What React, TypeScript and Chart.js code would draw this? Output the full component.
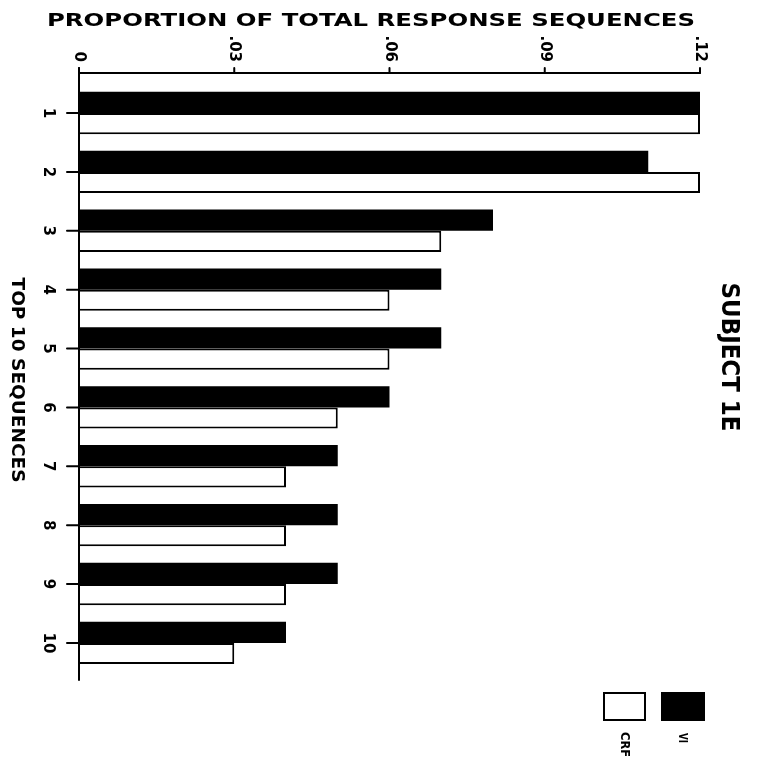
import React, { useEffect, useRef } from "react";
import { Chart, registerables } from "chart.js";

Chart.register(...registerables);

// ---- data ----
const categories = ["1", "2", "3", "4", "5", "6", "7", "8", "9", "10"];
const viValues = [0.12, 0.11, 0.08, 0.07, 0.07, 0.06, 0.05, 0.05, 0.05, 0.04];
const crfValues = [0.12, 0.12, 0.07, 0.06, 0.06, 0.05, 0.04, 0.04, 0.04, 0.03];
const xTickValues = [0, 0.03, 0.06, 0.09, 0.12];
const xTickLabels = ["0", ".03", ".06", ".09", ".12"];
const seriesNames = ["VI", "CRF"];
const titleText = "PROPORTION OF TOTAL RESPONSE SEQUENCES";
const yAxisTitle = "TOP 10 SEQUENCES";
const subjectText = "SUBJECT 1E";

const FONT = "'DejaVu Sans', sans-serif";

function rotText(
  ctx: CanvasRenderingContext2D,
  text: string,
  x: number,
  y: number,
  font: string,
  align: CanvasTextAlign,
  len?: number
) {
  ctx.save();
  ctx.translate(x, y);
  ctx.rotate(Math.PI / 2);
  ctx.font = font;
  ctx.textAlign = align;
  ctx.textBaseline = "middle";
  ctx.fillStyle = "#000";
  if (len) {
    const w = ctx.measureText(text).width;
    ctx.scale(len / w, 1);
  }
  ctx.fillText(text, 0, 0);
  ctx.restore();
}

function line(ctx: CanvasRenderingContext2D, x1: number, y1: number, x2: number, y2: number) {
  ctx.beginPath();
  ctx.moveTo(x1, y1);
  ctx.lineTo(x2, y2);
  ctx.stroke();
}

const decorPlugin = {
  id: "decor",
  afterDraw(chart: any) {
    const ctx: CanvasRenderingContext2D = chart.ctx;
    const xs = chart.scales.x;
    const ys = chart.scales.y;
    const area = chart.chartArea;
    const x0 = xs.getPixelForValue(xTickValues[0]);
    const x1 = xs.getPixelForValue(xTickValues[xTickValues.length - 1]);
    const yTop = area.top;
    const yBot = area.bottom;

    ctx.save();
    ctx.strokeStyle = "#000";
    ctx.lineWidth = 2;
    ctx.lineCap = "round";
    // axes
    line(ctx, x0, yTop, x1, yTop);
    line(ctx, x0, yTop - 5, x0, yBot);
    // top ticks + labels
    xTickValues.forEach((v, i) => {
      const px = xs.getPixelForValue(v);
      line(ctx, px, yTop, px, yTop - 5);
      rotText(ctx, xTickLabels[i], px, yTop - 11, `bold 15px ${FONT}`, "right");
    });
    // left ticks + labels
    categories.forEach((c, i) => {
      const py = ys.getPixelForValue(i + 1);
      line(ctx, x0 - 12, py, x0, py);
      rotText(ctx, c, x0 - 31, py, `bold 15px ${FONT}`, "center");
    });

    // title
    ctx.font = `bold 18px ${FONT}`;
    ctx.fillStyle = "#000";
    ctx.textAlign = "center";
    ctx.textBaseline = "middle";
    const tw = ctx.measureText(titleText).width;
    ctx.save();
    ctx.translate(371, 21);
    ctx.scale(648 / tw, 1);
    ctx.fillText(titleText, 0, 0);
    ctx.restore();

    // y-axis title
    rotText(ctx, yAxisTitle, 17, 380, `bold 18px ${FONT}`, "center", 205);
    // subject
    rotText(ctx, subjectText, 728, 357, `bold 25px ${FONT}`, "center", 149);

    // legend
    ctx.fillStyle = "#000";
    ctx.fillRect(661, 692, 44, 29);
    ctx.fillStyle = "#fff";
    ctx.fillRect(604, 693, 41, 27);
    ctx.strokeRect(604, 693, 41, 27);
    rotText(ctx, seriesNames[0], 682, 733, `bold 13px ${FONT}`, "left", 10);
    rotText(ctx, seriesNames[1], 624, 732, `bold 13px ${FONT}`, "left", 25);
    ctx.restore();
  },
};

export default function App() {
  const ref = useRef<HTMLCanvasElement>(null);
  useEffect(() => {
    if (!ref.current) return;
    const chart = new Chart(ref.current, {
      type: "bar",
      data: {
        datasets: [
          {
            label: seriesNames[0],
            data: viValues.map((v, i) => ({ x: v, y: i + 1 })),
            backgroundColor: "#000",
            borderWidth: 0,
            categoryPercentage: 0.72,
            barPercentage: 1,
          },
          {
            label: seriesNames[1],
            data: crfValues.map((v, i) => ({ x: v, y: i + 1 })),
            backgroundColor: "#fff",
            borderColor: "#000",
            borderWidth: 2,
            categoryPercentage: 0.72,
            barPercentage: 1,
          },
        ],
      } as any,
      options: {
        indexAxis: "y",
        responsive: false,
        animation: false,
        layout: { padding: { left: 79, right: 62, top: 73, bottom: 83 } },
        plugins: {
          legend: { display: false },
          tooltip: { enabled: false },
          title: { display: false },
        },
        scales: {
          x: { type: "linear", display: false, min: 0, max: 0.12, offset: false },
          y: {
            type: "linear",
            display: false,
            offset: false,
            grace: 0,
            min: 0.32,
            max: 10.63,
            reverse: true,
            afterBuildTicks: (s: any) => {
              s.ticks = categories.map((_, i) => ({ value: i + 1 }));
            },
          },
        },
      } as any,
      plugins: [decorPlugin],
    });
    return () => chart.destroy();
  }, []);
  return (
    <div style={{ position: "absolute", left: 0, top: 0, width: 762, height: 763, background: "#fff" }}>
      <canvas ref={ref} width={762} height={763} style={{ display: "block" }} />
    </div>
  );
}
